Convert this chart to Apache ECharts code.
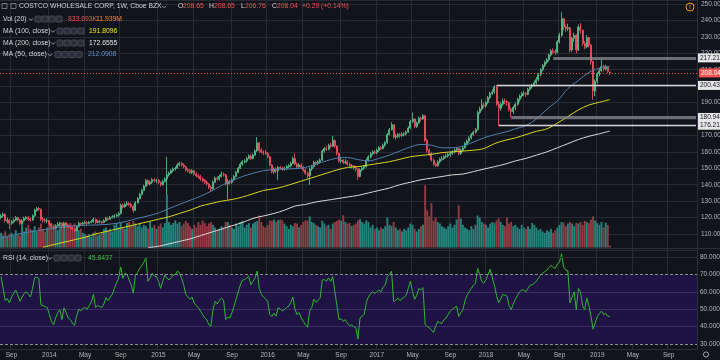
<!DOCTYPE html>
<html><head><meta charset="utf-8">
<script src="https://cdn.jsdelivr.net/npm/echarts@6/dist/echarts.min.js"></script>
<style>html,body{margin:0;padding:0;background:#12141c;}#c{width:720px;height:360px;}</style>
</head><body><div id="c"></div>
<script>
// ---------- DATA ----------
const firstWeek = '2013-07-29';
const totalWeeks = 332;            // includes empty future weeks on the right
const firstOpen = 120;
const closes = [
121,122,118,118.5,116.5,117.5,118.5,120,118.5,116.5,
118,119.5,120,119,118.5,121,124.5,125.5,125,119,
118.5,118,118,116,114.5,113.5,115,116,116.5,114,
116.5,115.5,114.5,114,113,112,114.5,116.5,116,116.5,
117,116.5,117,117.5,119,117,117.5,117.5,117,118,
119.5,119,120,120.5,121,121.5,122.5,127.5,126.5,128,
128.5,128,127,124.5,129,131.5,134,136.5,139,142.5,
140.5,141.5,143,142.5,142.5,141.5,140,142,143.5,146,
147,148.5,149.5,150,152,153,152,151,149,148.5,
147.5,148.5,146.5,145.5,145,143.5,142.5,141.5,140.5,138.5,
137.5,141.5,144,143.5,145,146.5,146,140.5,142,141.5,
143,145,147.5,150,152.5,154,154.5,156,157.5,156,
158,160.5,165.5,161,160,159.5,159,157,152,148,
149.5,148.5,150.5,150,149.5,150,151,151.5,153,156,
152.5,151,152,150.5,149,147,145.5,149.5,151,153.5,
153,154,155,160.5,162,161.5,164,163.5,167,163.5,
159,154.5,155,153.5,154,152.5,151.5,151.5,150.5,149.5,
145,149,150,151,155,157,159,160,159.5,161,
162.5,162,164,165.5,170.5,173.5,176.5,169,169.5,170.5,
170,170.5,171,172,174.5,178.5,180,175.5,177.5,180.5,
180,182,167,161,159,155,152.5,151.5,154,155.5,
156,157,157.5,158.5,159,160,161,162,159,161,
162.5,165,166.5,168.5,170.5,172,173.5,184,186,188.5,
188,190,193,195.5,196.5,199.5,189,186.5,189,191,
190.5,190,186,184.5,187,189,192,194,195.5,195.5,
195,198,199.5,200.5,202,204,207,210,212.5,214.5,
216,219,221.5,221,220.5,227,231,241,236,235,
235.5,222,229,231,222,236,234,226,224,229.5,
225,215,197,203,207.5,209.5,212,210.5,211.5,209,
208.04
];
const highs = [
122,123,122.5,120,119,118.5,119.5,121,120.5,119,
119,120.5,121,121,120,122,125.5,126.5,126.5,125.5,
120,119.5,119.5,118.5,116.5,115,116,117,117.5,117,
117.5,117,116.5,115.5,114.5,113.5,115,117.5,117,117.5,
118,118,118,118.5,120,119.5,118.5,118.5,118,119,
120.5,120.5,121,121.5,122,122.5,123.5,128.5,128.5,129,
130,129.5,129,127.5,130,132.5,135,137.5,140,143.5,
143.5,142.5,144,144,143.5,143.5,142,143,144.5,157,
148,149.5,150.5,151,153,154,154,153,151.5,150,
149.5,149.5,149,147.5,146.5,146,144.5,143.5,142.5,141,
139.5,142.5,145,145,146,148,147.5,146.5,143.5,143,
144,146,148.5,151,153.5,155,155.5,157,158.5,158.5,
159,161.5,169,166,162.5,161,161,160,157.5,152.5,
150.5,150.5,151.5,151.5,151,151,152,152.5,154,157,
159,153.5,153,153,151.5,150,148,150.5,152,154.5,
154.5,155,156,161.5,163,163.5,165,165.5,169.7,167.5,
164,159.5,156.5,155.5,155.5,155,153.5,152.5,152,151.5,
150,150,151,152,156,158,160,161,161,162,
163.5,163.5,165,166.5,171.5,174.5,178,177,171,171.5,
171.5,172,172,173,175.5,179.5,184,180.5,178.5,181.5,
181.5,183,182.5,168,162,160,156,153.5,155,156.5,
157.5,158,159,159.5,160,161,162,163,162.5,162,
163.5,166,167.5,169.5,171.5,173,174.5,185,187.5,192,
190,191,194,196.5,198,200.7,200,191,190.5,192.5,
192.5,191.5,190.5,187,188,190,193,195,196.5,197,
196.5,199,200.5,201.5,203.5,205.5,208,211,213.5,215.5,
217.2,220,222.5,223,222.5,228,232.5,245,241.5,237.5,
238,236,230,232.5,231.5,237.5,238.4,234.5,227.5,231,
230,225.5,215.5,204,208.5,211,216,213,213,212,
208.65
];
const lows = [
119,120,117,116.5,113,115.5,116.5,118,117.5,115.5,
116,117.5,118.5,118,117.5,118,120.5,123.5,124,118,
117,117,116.5,115,113.5,112.5,113,114.5,115,113,
113.5,114.5,113.5,113,112,111,111.5,114,115,115.5,
116,115.5,116,116.5,117,116,116.5,116.5,116,116.5,
117.5,118,118.5,119.5,119.5,120,120.5,122,125.5,126,
127,127,126,123,124,128.5,131,133.5,136,138.5,
139.5,139.5,140.5,141.5,141,140.5,139,139.5,141.5,134,
145,146.5,147.5,148.5,149.5,151,151,150,148,147.5,
146.5,146.5,145.5,144.5,144,142.5,141.5,140.5,139.5,137.5,
135.5,137,141,142.5,142.5,144.5,145,139.5,131,140,
140.5,142.5,144.5,147,149.5,151.5,153,153.5,155.5,155,
155.5,157.5,160,159.5,159,158,158,156,151,147,
146.5,147,143,149,148.5,148.5,149,150,150.5,152.5,
152,150,150,149.5,148,146,144,139.8,148.5,150.5,
152,152,153,154.5,159.5,160.5,161,162.5,163,162.5,
158,153.5,153,152.5,152.5,151.5,150.5,150,149,148,
143,144.5,148,149,150.5,154,156,158,158.5,158.5,
160,161,161.5,163,165,170,173,168,167.5,168.5,
168.5,169,169.5,170,171.5,174,177.5,174.5,174.5,177,
178.5,179.5,166,159.5,157.5,154,151.5,150.8,151,153,
154.5,155,156,156.5,157,158,159,160,158,158,
160,162,164,165.5,167.5,169.5,171,173,183,185,
186.5,187,189,192,194.5,195.5,188,176.3,185,188,
189,188,184.5,180.9,183,185.5,188,190.5,193,194,
193.5,194.5,197,198.5,199.5,201,203,206,209,211.5,
213.5,215,218,219.5,219,220,226,230,234,233,
233.5,220.5,221,227,220,221.5,232,224.5,222.5,223,
223.5,213,191.6,194,201.5,206,208.5,209,209.5,208,
206.76
];
const volumesM = [
6.6,5.4,7.2,4.8,6,6.6,5.4,7.8,6,5.4,
11,7.2,9,10.2,8.4,7.8,9.6,7.2,9,10.8,
8.4,7.2,9,12.2,11,10.4,9,7.8,10.2,8.4,
9.6,11.5,10.2,11,9.6,10.8,9,7.8,8.4,6.6,
6,5.4,6,4.8,6.6,7.2,5.4,6,6.6,8.4,
9,7.8,8.4,7.2,10.2,11,9,11.5,9,8.4,
11,11.5,10.2,12,10.8,9.6,10.8,9,10.2,9.6,
8.4,11.5,9,10.2,8.4,9.6,10.8,9,11,23.9,
11.5,10.2,11,12.2,10.8,11.5,9.6,10.8,12,11,
9.6,8.4,10.2,9,11.5,10.2,12.2,11,9.6,10.8,
11.5,10.2,9,7.8,8.4,9.6,9,11.5,11.5,10.2,
9,8.4,10.8,9.6,11.5,12,9,10.2,11,9,
10.8,11.5,12,14.4,11.5,9.6,9,10.2,12.2,12,
12.6,11.5,12.4,12.6,12.2,10.8,9.6,8.4,10.2,9.6,
11,10.8,9,10.2,11.5,12.2,12,14,11.5,11,
10.2,9.6,9,12,10.8,9.6,10.2,8.4,10.8,11.5,
12,12.6,12,14.5,11.5,10.8,11,9.6,10.2,10.8,
12.2,12.8,11.5,10.8,12.2,11.5,9,10.2,8.4,9,
7.8,9,8.4,9.6,13.5,10.2,9.6,11.5,9,7.8,
8.4,7.2,8.4,7.8,9,10.8,10.2,8.4,7.2,8.4,
9.6,10.2,28,16.7,14,20,12,13.5,11.5,10.8,
9.6,9,8.4,9.6,10.8,9,10.2,12.6,19,13,
10.2,9,8.4,7.8,9.6,8.4,10.2,14.4,13.5,11.5,
10.8,10.2,9,10.8,11.5,11,12.2,13.2,11.5,10.2,
9.6,13.5,10.8,11.5,9.6,10.2,9,8.4,10.2,9,
8.4,9.6,8.4,11,10.2,9,7.8,8.4,7.2,6.6,
7.8,7.2,8.4,6.6,7.8,9,10.2,11.5,11.2,9.6,
10.8,11.5,10.8,9.6,11,10.8,11.5,10.2,12,11.5,
11,12.6,14,12.2,11,10.2,11.5,9,11.2,10.2,
0.834
];
const rsi14 = [
68.7,62,55,56,53.6,57,59,61,58,54.5,
57,59,60,58.5,57,62,68,68.5,67.7,52.6,
52,51.5,51,47,43,41,45,48,49.8,44,
50.8,48,45,44,42,40.6,46,50,49,50.5,
51,50,52,54,58.5,51,52,51.5,51,53,
56.6,55,57,58.5,62,65,68,74.3,67.7,70.6,
70,66.8,64,59.2,69.6,71,73.4,75,77,79.4,
66,68,70.6,69,68.7,66,62,66,69.6,68,
66.8,68,69.6,70,71.9,71,67.7,64,58.5,57,
55.7,57,53.6,52,51,48.9,47,45,44,41,
40.4,50,54.5,53,55,56.4,55,44,45.5,45,
48,51.7,56,60,64,66.8,67,68,68.7,64,
66,68,71.9,62,58.5,57,56,54.5,47,45.8,
47.7,46,51,50,49,49.8,51,51.7,54,57,
50,46.8,48,45,43,41,39.6,48.9,51,55.7,
54,55,56.4,66.8,67,66,68,66,68.7,60,
52,44,44.5,43,44,42,40.6,41,40,39.4,
32.8,45,46,47,54,57,59,60,59,60,
61,60,62.6,64,68.7,70,71.9,54.5,55,56.4,
55,56,57,58,62,66.2,60,55.7,58,62,
61,62.4,41.3,40,39.4,38,36.6,40,43,42,
42,44,45,47,48.9,50,51,51.7,45.8,48,
49.8,55,58,60,62,63.8,65,73.4,70,66,
65,67,70,73,68,63.8,58,53.6,56,58.5,
58,57.5,52,49.8,53,55.7,58,60,61,61,
60,62,63.8,64,65,66,68,69.6,71,71.5,
72.5,74,75.3,74,73.4,76,77,81.9,74,72.5,
72,53.6,57,60,49.8,62,60,52,49.8,56.4,
52,46,38.5,42,45.8,47.5,48.9,47,47.5,46,
45.8
];
// moving averages read every 5 weeks
const maStep = 5;
const ma50Start = 0;
const ma50 = [107.5,109,110.5,111.5,112.5,113.5,114.5,115,115.3,115.5,
115.8,116.5,117.8,119.5,121,122.8,125.5,128,130.5,133,
136,139.5,142.5,145,147,148.5,149.3,149.5,149.8,150.5,
152.5,154.5,156.2,156.5,155.3,154.5,156,158,160.5,163,
164.5,164,162.5,162.5,163.5,166,168.5,170.5,172,174,
176,180,186,191,198.5,203.5,208.3,211,212.09];
const ma100Start = 20;
const ma100 = [102,103.5,105,106.5,108,110,111.5,113,114.5,116,
117.5,119,120.5,122.5,124.5,127,128.5,130,131,132.5,
134.5,136.5,137.5,139,141,143,145,147,149,150.5,
151,152,153,154,155.5,157,157.8,158.5,159.5,160,
160.5,161,162,165,167,168.5,170.5,172.5,174,177.5,
181.5,185.5,188.5,190.2,191.81];
const ma200Start = 70;
const ma200 = [101.8,102.5,104,105.5,107,109,111,113,115,117,
119.5,121,122.5,124.5,127,128,129.5,130.5,131.5,132.5,
133.5,135,136.5,138,140,141.5,143,144,145,146,
146.5,148,149.5,151,152.5,154.5,156,158,160,162.5,
165,167.5,169.5,171,172.66];
const lastBar = {o:208.65, h:208.65, l:206.76, c:208.04};
const levels = [
  {v:217.21, fromWeek:263, kind:'band'},
  {v:200.43, fromWeek:236, kind:'line'},
  {v:180.94, fromWeek:243, kind:'band'},
  {v:176.21, fromWeek:237, kind:'line'}
];
const rsiLabels = [80,70,60,50,40,30];
const header = {title:'COSTCO WHOLESALE CORP, 1W, Cboe BZX', change:'+0.29 (+0.14%)',
  vol:'833.693K', volMa:'11.939M', ma100:'191.8096', ma200:'172.6555', ma50:'212.0908', rsi:'45.8437'};

// ---------- BUILD ----------
const DAY = 864e5, t0 = Date.UTC(2013,6,29);
const MON = ['Jan','Feb','Mar','Apr','May','Jun','Jul','Aug','Sep','Oct','Nov','Dec'];
const cats = [];
for (let i=0;i<totalWeeks;i++) cats.push(new Date(t0+i*7*DAY).toISOString().slice(0,10));
function isMark(i){const d=new Date(t0+i*7*DAY);const m=d.getUTCMonth();return d.getUTCDate()<=7&&(m===0||m===4||m===8);}
function markText(i){const d=new Date(t0+i*7*DAY);const m=d.getUTCMonth();return m===0?String(d.getUTCFullYear()):MON[m];}

const N = closes.length;
const opens = closes.map((c,i)=> i===0 ? firstOpen : closes[i-1]);
opens[N-1] = lastBar.o;
const candle = closes.map((c,i)=>[opens[i], c, Math.min(lows[i],opens[i],c), Math.max(highs[i],opens[i],c)]);
const UP='#53b987', DN='#eb4d5c';
const vol = volumesM.map((v,i)=>({value:v, itemStyle:{color: closes[i]>=opens[i] ? '#25837c' : '#913b43'}}));
function sampled(arr,start){const out=new Array(N).fill(null);arr.forEach((v,k)=>{const idx=start+k*maStep;if(idx<N)out[idx]=v;});out[N-1]=arr[arr.length-1];return out;}

const BG='#12141c', GRID='#262a35', TXT='#b2b5be', LBL='#d1d4dc';
const FONT='"Liberation Sans", Arial, sans-serif';
const lastCat = cats[totalWeeks-1];

const levelLines = levels.map(L=>{
  const ls = L.kind==='band' ? {color:'rgba(140,140,145,0.75)',width:3,type:'solid'} : {color:'#d6d6d6',width:1.3,type:'solid'};
  const lab = {show:true, position:'end', distance:2, formatter:()=>L.v.toFixed(2), color:'#131722', backgroundColor:'#e6e6e6', padding:[1,3,1,2], fontSize:6.5, fontFamily:FONT};
  return [{coord:[cats[L.fromWeek], L.v], lineStyle:ls, label:lab},{coord:[lastCat, L.v], lineStyle:ls, label:lab}];
});
levelLines.push({yAxis:lastBar.c, lineStyle:{color:'#ef5350',width:1,type:[1,2]},
  label:{show:true, position:'end', distance:2, formatter:()=>lastBar.c.toFixed(2), color:'#fff', backgroundColor:'#ef5350', padding:[1,3,1,2], fontSize:6.5, fontFamily:FONT}});

const rsiMarks = rsiLabels.map(v=>({yAxis:v,
  lineStyle: (v===70||v===30) ? {color:'#8a8c96',width:1,type:[3,2]} : {color: v>70 ? '#262a35' : 'rgba(130,115,185,0.28)', width:1, type:'solid'},
  label:{show:true, position:'end', distance:3, formatter:()=>v.toFixed(4), color:TXT, fontSize:6.5, fontFamily:FONT}}));

// header graphics
const G = [];
function T(x,y,text,fill){G.push({type:'text',x:x,y:y,z:100,style:{text:text,fill:fill||LBL,font:'6.8px '+FONT,verticalAlign:'middle'}});}
function chev(x,y){G.push({type:'polyline',z:100,shape:{points:[[x,y-1.2],[x+2,y+0.8],[x+4,y-1.2]]},style:{stroke:TXT,lineWidth:0.8,fill:null}});}
function boxes(x,y){for(let k=0;k<4;k++)G.push({type:'rect',z:100,shape:{x:x+k*7,y:y-3,width:6,height:6,r:1},style:{fill:'#2a2e39',stroke:'#5d606b',lineWidth:0.6}});}
G.push({type:'rect',z:100,shape:{x:2,y:3.5,width:5,height:5},style:{fill:null,stroke:'#9598a1',lineWidth:0.7}});
G.push({type:'rect',z:100,shape:{x:11,y:3.5,width:5,height:5},style:{fill:null,stroke:'#9598a1',lineWidth:0.7}});
T(19,6.5,header.title); chev(162,7);
T(178,6.5,'O'); T(183,6.5,'208.65','#ef5350');
T(209,6.5,'H'); T(214,6.5,'208.65','#ef5350');
T(241,6.5,'L'); T(245,6.5,'206.76','#ef5350');
T(272,6.5,'C'); T(277,6.5,'208.04','#ef5350');
T(302,6.5,header.change,'#ef5350');
T(3,19,'Vol (20)'); chev(29,19.5); boxes(35,19); T(68,19,header.vol,'#ef5350'); T(96,19,header.volMa,'#f08a24');
T(3,31,'MA (100, close)'); chev(51,31.5); boxes(57,31); T(89,31,header.ma100,'#e8e81c');
T(3,43,'MA (200, close)'); chev(51,43.5); boxes(57,43); T(89,43,header.ma200,'#e6e6e6');
T(3,54.5,'MA (50, close)'); chev(48,55); boxes(55,54.5); T(88,54.5,header.ma50,'#5b8fce');
T(3,258,'RSI (14, close)'); chev(48,258.5); boxes(54,258); T(88,258,header.rsi,'#3cc43c');
G.push({type:'circle',z:100,shape:{cx:690,cy:7,r:4},style:{fill:null,stroke:'#f7931a',lineWidth:1}});
G.push({type:'text',z:100,x:690,y:7,style:{text:'!',fill:'#f7931a',font:'bold 6px '+FONT,align:'center',verticalAlign:'middle'}});
G.push({type:'line',z:100,shape:{x1:0,y1:248.5,x2:720,y2:248.5},style:{stroke:'#2a2e39',lineWidth:1}});
G.push({type:'circle',z:100,shape:{cx:706,cy:354.5,r:2.6},style:{fill:null,stroke:TXT,lineWidth:0.9}});

const xBase = {type:'category', data:cats, boundaryGap:true, axisTick:{show:false}};
const option = {
  backgroundColor: BG, animation:false,
  grid:[
    {left:0, width:697, top:0, height:250.43, outerBoundsMode:'none', containLabel:false},
    {left:0, width:697, top:147.5, height:100, outerBoundsMode:'none', containLabel:false},
    {left:0, width:697, top:248.5, height:100.5, outerBoundsMode:'none', containLabel:false}
  ],
  xAxis:[
    Object.assign({}, xBase, {gridIndex:0, axisLine:{show:false}, axisLabel:{show:false}, splitLine:{show:true, interval:(i)=>isMark(i), lineStyle:{color:GRID,width:1}}}),
    Object.assign({}, xBase, {gridIndex:1, show:false}),
    Object.assign({}, xBase, {gridIndex:2, axisLine:{show:true, lineStyle:{color:'#2a2e39'}},
      axisLabel:{show:true, interval:(i)=>isMark(i), formatter:(v,i)=>markText(i), color:TXT, fontSize:6.5, fontFamily:FONT, margin:3},
      splitLine:{show:true, interval:(i)=>isMark(i), lineStyle:{color:GRID,width:1}}})
  ],
  yAxis:[
    {gridIndex:0, type:'value', position:'right', min:100, max:252.435, interval:10,
     axisLine:{show:true, lineStyle:{color:'#2a2e39'}}, axisTick:{show:false},
     axisLabel:{color:TXT, fontSize:6.5, fontFamily:FONT, margin:4, hideOverlap:false, showMaxLabel:false,
       formatter:(v)=> (Math.abs(v/10-Math.round(v/10))>1e-6 || v<=100 || v>250.5)?'':v.toFixed(2)},
     splitLine:{show:true, lineStyle:{color:GRID,width:1}}},
    {gridIndex:1, type:'value', min:0, max:45, show:false, splitLine:{show:false}},
    {gridIndex:2, type:'value', position:'right', min:27.126, max:84.885,
     axisLine:{show:true, lineStyle:{color:'#2a2e39'}}, axisTick:{show:false}, axisLabel:{show:false}, splitLine:{show:false}}
  ],
  series:[
    {type:'bar', xAxisIndex:1, yAxisIndex:1, data:vol, barCategoryGap:'8%', z:1, silent:true},
    {type:'candlestick', xAxisIndex:0, yAxisIndex:0, data:candle, barWidth:1.5, z:3,
     itemStyle:{color:UP, color0:DN, borderColor:UP, borderColor0:DN, borderWidth:0.9},
     markLine:{silent:true, symbol:['none','none'], animation:false, data:levelLines}},
    {type:'line', xAxisIndex:0, yAxisIndex:0, data:sampled(ma50,ma50Start), connectNulls:true, smooth:0.35, showSymbol:false, z:4, lineStyle:{color:'#4f7fae',width:1}},
    {type:'line', xAxisIndex:0, yAxisIndex:0, data:sampled(ma100,ma100Start), connectNulls:true, smooth:0.35, showSymbol:false, z:4, lineStyle:{color:'#d8d81e',width:1}},
    {type:'line', xAxisIndex:0, yAxisIndex:0, data:sampled(ma200,ma200Start), connectNulls:true, smooth:0.35, showSymbol:false, z:4, lineStyle:{color:'#d9d9d9',width:1}},
    {type:'line', xAxisIndex:2, yAxisIndex:2, data:rsi14, showSymbol:false, z:4, lineStyle:{color:'#2fb82f',width:1},
     markArea:{silent:true, itemStyle:{color:'#1e1342'}, data:[[{yAxis:30},{yAxis:70}]]},
     markLine:{silent:true, symbol:['none','none'], animation:false, data:rsiMarks}}
  ],
  graphic: G
};
const chart = echarts.init(document.getElementById('c'));
chart.setOption(option);
</script>
</body></html>
